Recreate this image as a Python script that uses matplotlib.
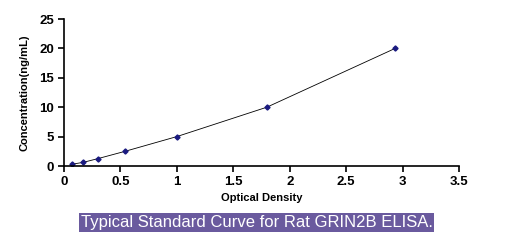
import matplotlib
matplotlib.use('Agg')
import matplotlib.pyplot as plt

# Curva padrão ELISA - GRIN2B
densidade = [0.074, 0.171, 0.299, 0.541, 0.999, 1.797, 2.934]
concentracao = [0.3125, 0.625, 1.25, 2.5, 5, 10, 20]

xticks = [0, 0.5, 1, 1.5, 2, 2.5, 3, 3.5]
xticklabels = ['0', '0.5', '1', '1.5', '2', '2.5', '3', '3.5']
yticks = [0, 5, 10, 15, 20, 25]

plt.rcParams['font.family'] = ['Liberation Sans', 'DejaVu Sans']

fig = plt.figure(figsize=(5.1, 2.45), dpi=100)
ax = fig.add_axes([0.1255, 0.3224, 0.7745, 0.6])

ax.plot(densidade, concentracao, color='black', linewidth=0.6)
ax.plot(densidade, concentracao, linestyle='none', marker='D', markersize=2.6,
        color='#1a1a80')

ax.set_xlim(0, 3.5)
ax.set_ylim(0, 25)
ax.set_xticks(xticks)
ax.set_xticklabels(xticklabels)
ax.set_yticks(yticks)
for lbl in ax.get_xticklabels() + ax.get_yticklabels():
    lbl.set_fontweight('bold')
    lbl.set_fontsize(9.5)

ax.spines['top'].set_visible(False)
ax.spines['right'].set_visible(False)
ax.spines['left'].set_linewidth(1.2)
ax.spines['bottom'].set_linewidth(1.2)
ax.tick_params(direction='out', length=4, width=1.2, pad=3)

ax.set_xlabel('Optical Density', fontsize=8, fontweight='bold', labelpad=4)
ax.set_ylabel('Concentration(ng/mL)', fontsize=8, fontweight='bold', labelpad=7)

fig.text(0.503, 0.093, 'Typical Standard Curve for Rat GRIN2B ELISA.',
         ha='center', va='center', color='white', fontsize=12,
         bbox=dict(boxstyle='square,pad=0.12', facecolor='#6a5a9e',
                   edgecolor='none'))

fig.savefig('out.png', dpi=100)
